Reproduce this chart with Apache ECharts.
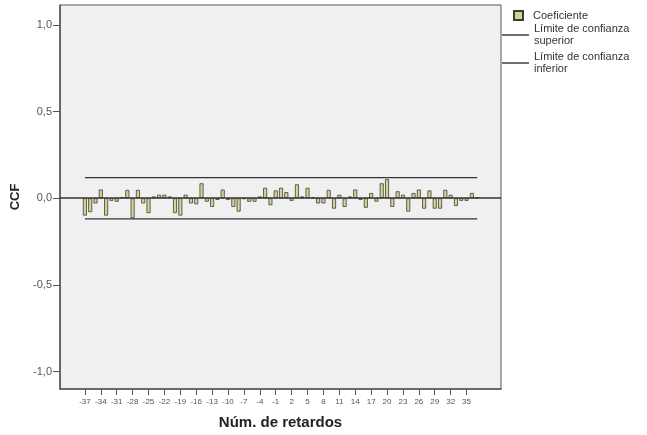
<!DOCTYPE html>
<html>
<head>
<meta charset="utf-8">
<script src="https://cdn.jsdelivr.net/npm/echarts@6/dist/echarts.min.js"></script>
<style>html,body{margin:0;padding:0;background:#fff}#c{width:647px;height:435px}</style>
</head>
<body>
<div id="c"></div>
<script>
// Lags (Núm. de retardos)
const lags = [-37,-36,-35,-34,-33,-32,-31,-30,-29,-28,-27,-26,-25,-24,-23,-22,-21,-20,-19,-18,-17,-16,-15,-14,-13,-12,-11,-10,-9,-8,-7,-6,-5,-4,-3,-2,-1,0,1,2,3,4,5,6,7,8,9,10,11,12,13,14,15,16,17,18,19,20,21,22,23,24,25,26,27,28,29,30,31,32,33,34,35,36,37];
// CCF coefficients
const coef = [-0.10,-0.08,-0.03,0.05,-0.10,-0.015,-0.02,0.005,0.048,-0.115,0.048,-0.03,-0.086,0.01,0.02,0.02,0.01,-0.086,-0.10,0.02,-0.03,-0.035,0.086,-0.02,-0.05,-0.01,0.05,-0.01,-0.05,-0.077,-0.005,-0.02,-0.02,0.01,0.06,-0.04,0.045,0.06,0.035,-0.015,0.08,0.01,0.06,0.005,-0.03,-0.03,0.048,-0.06,0.02,-0.05,0.01,0.05,-0.01,-0.055,0.03,-0.02,0.086,0.11,-0.05,0.04,0.02,-0.077,0.03,0.05,-0.06,0.045,-0.06,-0.06,0.048,0.02,-0.045,-0.015,-0.015,0.03,0.005];
const upperLimit = 0.119;
const lowerLimit = -0.119;
const xTickLabels = [-37,-34,-31,-28,-25,-22,-19,-16,-13,-10,-7,-4,-1,2,5,8,11,14,17,20,23,26,29,32,35];
const yTickLabels = [-1.0,-0.5,0.0,0.5,1.0];

const FONT = 'Liberation Sans';
const chart = echarts.init(document.getElementById('c'), null, {renderer:'canvas'});
const barData = lags.map((l,i)=>[l, coef[i]]);
const first = lags[0], last = lags[lags.length-1];

chart.setOption({
  animation:false,
  backgroundColor:'#ffffff',
  textStyle:{fontFamily:FONT},
  grid:{left:60, right:146, top:5, bottom:43, show:true, backgroundColor:'#f0f0f0', borderColor:'#555', borderWidth:1},
  legend:[
    {data:[{name:'Coeficiente', icon:'rect'}], left:513, top:10, padding:0, itemWidth:9, itemHeight:9, selectedMode:false,
     textStyle:{fontSize:11, color:'#333', fontFamily:FONT, padding:[0,0,0,5]}},
    {data:[{name:'Límite de confianza\nsuperior', icon:'rect'},{name:'Límite de confianza\ninferior', icon:'rect'}],
     orient:'vertical', left:502, top:23, padding:0,
     itemWidth:27, itemHeight:1.4, itemGap:4, selectedMode:false,
     textStyle:{fontSize:11, color:'#333', fontFamily:FONT, lineHeight:12}}
  ],
  xAxis:{
    type:'value', min:-41.7, max:41.5,
    name:'Núm. de retardos', nameLocation:'middle', nameGap:26,
    nameTextStyle:{fontSize:15, fontWeight:'bold', color:'#222', fontFamily:FONT},
    axisLine:{show:true, onZero:false, lineStyle:{color:'#555', width:1.5}},
    axisTick:{show:true, customValues:xTickLabels, length:6, lineStyle:{color:'#555'}},
    axisLabel:{customValues:xTickLabels, fontSize:8, color:'#555', margin:9, fontFamily:FONT},
    splitLine:{show:false}
  },
  yAxis:{
    type:'value', min:-1.10, max:1.114,
    name:'CCF', nameLocation:'middle', nameGap:34,
    nameTextStyle:{fontSize:13, fontWeight:'bold', color:'#222', fontFamily:FONT},
    axisLine:{show:true, onZero:false, lineStyle:{color:'#555', width:1.5}},
    axisTick:{show:true, customValues:yTickLabels, length:7, lineStyle:{color:'#555'}},
    axisLabel:{customValues:yTickLabels, fontSize:11, color:'#555', margin:8, fontFamily:FONT,
      formatter:v=>Number(v).toFixed(1).replace('.',',')},
    splitLine:{show:false}
  },
  series:[
    {name:'Coeficiente', type:'bar', data:barData, barWidth:4,
     itemStyle:{color:'#d6d19b', borderColor:'#3f3f30', borderWidth:0.8},
     markLine:{silent:true, symbol:'none', label:{show:false},
       lineStyle:{color:'#333', width:1.5, type:'solid'}, data:[{yAxis:0}]}},
    {name:'Límite de confianza\nsuperior', type:'line', symbol:'none', showSymbol:false,
     data:[[first, upperLimit],[last, upperLimit]], lineStyle:{color:'#333', width:1.3}, itemStyle:{color:'#333'}},
    {name:'Límite de confianza\ninferior', type:'line', symbol:'none', showSymbol:false,
     data:[[first, lowerLimit],[last, lowerLimit]], lineStyle:{color:'#333', width:1.3}, itemStyle:{color:'#333'}}
  ]
});
</script>
</body>
</html>
